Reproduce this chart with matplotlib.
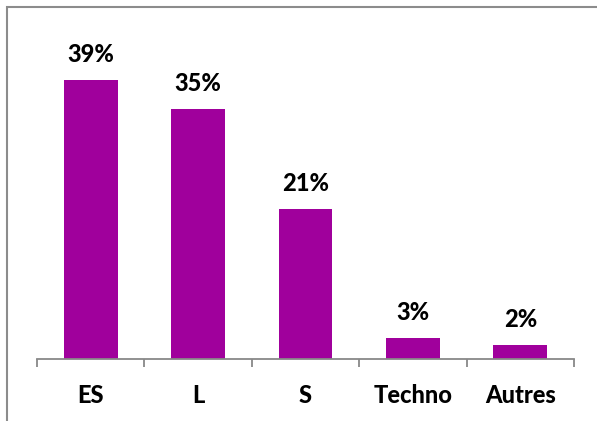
import matplotlib
matplotlib.use("Agg")
import matplotlib.pyplot as plt
from matplotlib.patches import Rectangle

categories = ["ES", "L", "S", "Techno", "Autres"]
values = [39, 35, 21, 3, 2]
labels = ["39%", "35%", "21%", "3%", "2%"]

W, H = 597, 421
fig = plt.figure(figsize=(W/100, H/100), dpi=100)
plt.rcParams['font.family'] = ['Lato', 'DejaVu Sans']

x0, x1 = 37, 574
ybase, ytop = 359, 20
ax = fig.add_axes([x0/W, 1-ybase/H, (x1-x0)/W, (ybase-ytop)/H])
pxper = 7.15
ax.set_ylim(0, (ybase-ytop)/pxper)
n = len(categories)
ax.set_xlim(-0.5, n-0.5)
pos = list(range(n))
ax.bar(pos, values, width=0.5, color="#A0009C")
for p, v, l in zip(pos, values, labels):
    ax.annotate(l, (p, v), xytext=(0, 10), textcoords="offset points",
                ha="center", va="bottom", fontsize=17, fontweight="black")

for s in ["top", "right", "left"]:
    ax.spines[s].set_visible(False)
ax.spines["bottom"].set_color("#888888")
ax.spines["bottom"].set_linewidth(1.3)
ax.set_yticks([])
ax.set_xticks([i-0.5 for i in range(n+1)])
ax.set_xticklabels([])
ax.tick_params(axis="x", which="major", length=6, width=1.3, color="#888888", direction="out")
ax.set_xticks(pos, minor=True)
ax.set_xticklabels(categories, minor=True, fontsize=17, fontweight="black")
ax.tick_params(axis="x", which="minor", length=0, pad=18)

fig.patches.append(Rectangle((7/W, -0.1), 1.2, 1.1-7/H, transform=fig.transFigure,
                             fill=False, edgecolor="#8c8c8c", linewidth=1.5))
fig.savefig("out.png", dpi=100)
